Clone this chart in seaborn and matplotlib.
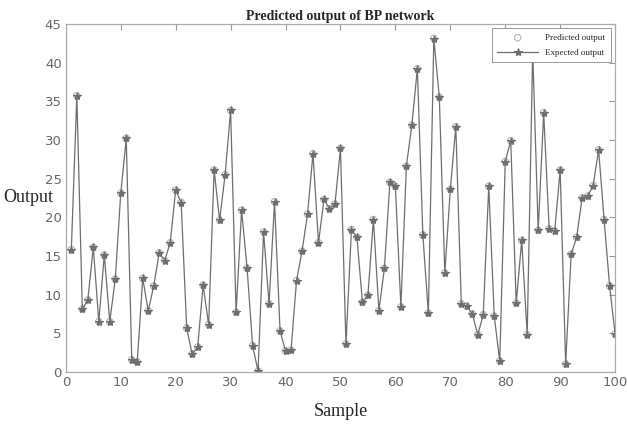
import matplotlib

matplotlib.use("Agg")
import matplotlib.pyplot as plt
import numpy as np
import pandas as pd
import seaborn as sns

# sample index 1..100
samples = list(range(1, 101))

# expected output, 10 per row
expected = [
    15.8, 35.7, 8.1, 9.3, 16.1, 6.5, 15.1, 6.5, 12.0, 23.1,
    30.2, 1.55, 1.3, 12.1, 7.9, 11.1, 15.4, 14.4, 16.7, 23.5,
    21.9, 5.65, 2.3, 3.2, 11.2, 6.1, 26.1, 19.6, 25.5, 33.8,
    7.7, 20.9, 13.4, 3.4, 0.1, 18.1, 8.8, 22.0, 5.3, 2.7,
    2.8, 11.8, 15.6, 20.4, 28.2, 16.7, 22.3, 21.1, 21.7, 28.9,
    3.6, 18.4, 17.4, 9.0, 9.9, 19.7, 7.9, 13.4, 24.5, 24.0,
    8.4, 26.6, 31.9, 39.2, 17.7, 7.6, 43.1, 35.5, 12.8, 23.6,
    31.7, 8.8, 8.5, 7.5, 4.8, 7.4, 24.0, 7.2, 1.4, 27.2,
    29.9, 8.9, 17.0, 4.8, 41.5, 18.3, 33.5, 18.5, 18.2, 26.1,
    1.0, 15.2, 17.4, 22.5, 22.7, 24.1, 28.7, 19.7, 11.1, 4.9,
]
# network prediction sits on top of the expected values in the picture
predicted = list(expected)

df = pd.DataFrame({"Sample": samples, "Expected": expected, "Predicted": predicted})

sns.set_style("white")
plt.rcParams["font.family"] = ["Liberation Serif", "DejaVu Serif"]

fig = plt.figure(figsize=(6.27, 4.26), dpi=100)
ax = fig.add_axes([0.105, 0.127, 0.876, 0.817])

line_color = "#6e6e6e"
sns.scatterplot(
    data=df, x="Sample", y="Predicted", ax=ax, marker="o", s=22,
    facecolors="none", edgecolor="#b5b5b5", linewidth=0.8, label="Predicted output",
)
sns.lineplot(
    data=df, x="Sample", y="Expected", ax=ax, color=line_color, linewidth=0.9,
    marker="*", markersize=6, markeredgecolor=line_color, label="Expected output",
)

ax.set_xlim(0, 100)
ax.set_ylim(0, 45)
ax.set_xticks(np.arange(0, 101, 10))
ax.set_yticks(np.arange(0, 46, 5))

tick_font = {"family": "DejaVu Sans", "size": 9.5}
ax.set_xticklabels([str(t) for t in range(0, 101, 10)], **tick_font, color="#666666")
ax.set_yticklabels([str(t) for t in range(0, 46, 5)], **tick_font, color="#666666")
ax.tick_params(direction="in", length=4, top=True, right=True, color="#999999", pad=3)

for spine in ax.spines.values():
    spine.set_color("#aaaaaa")
    spine.set_linewidth(0.9)

ax.set_title("Predicted output of BP network", fontsize=10, fontweight="bold", pad=3)
ax.set_xlabel("Sample", fontsize=13, labelpad=10)
ax.set_ylabel("Output", fontsize=13, rotation=0, labelpad=8, va="center")
ax.yaxis.set_label_coords(-0.068, 0.5)

leg = ax.legend(
    loc="upper right", fontsize=6.5, frameon=True, fancybox=False, framealpha=1,
    edgecolor="#888888", handlelength=4.5, borderpad=0.6, labelspacing=0.7,
)
leg.get_frame().set_linewidth(0.6)
leg.set_zorder(10)

plt.savefig("out.png", dpi=100)
plt.close()
